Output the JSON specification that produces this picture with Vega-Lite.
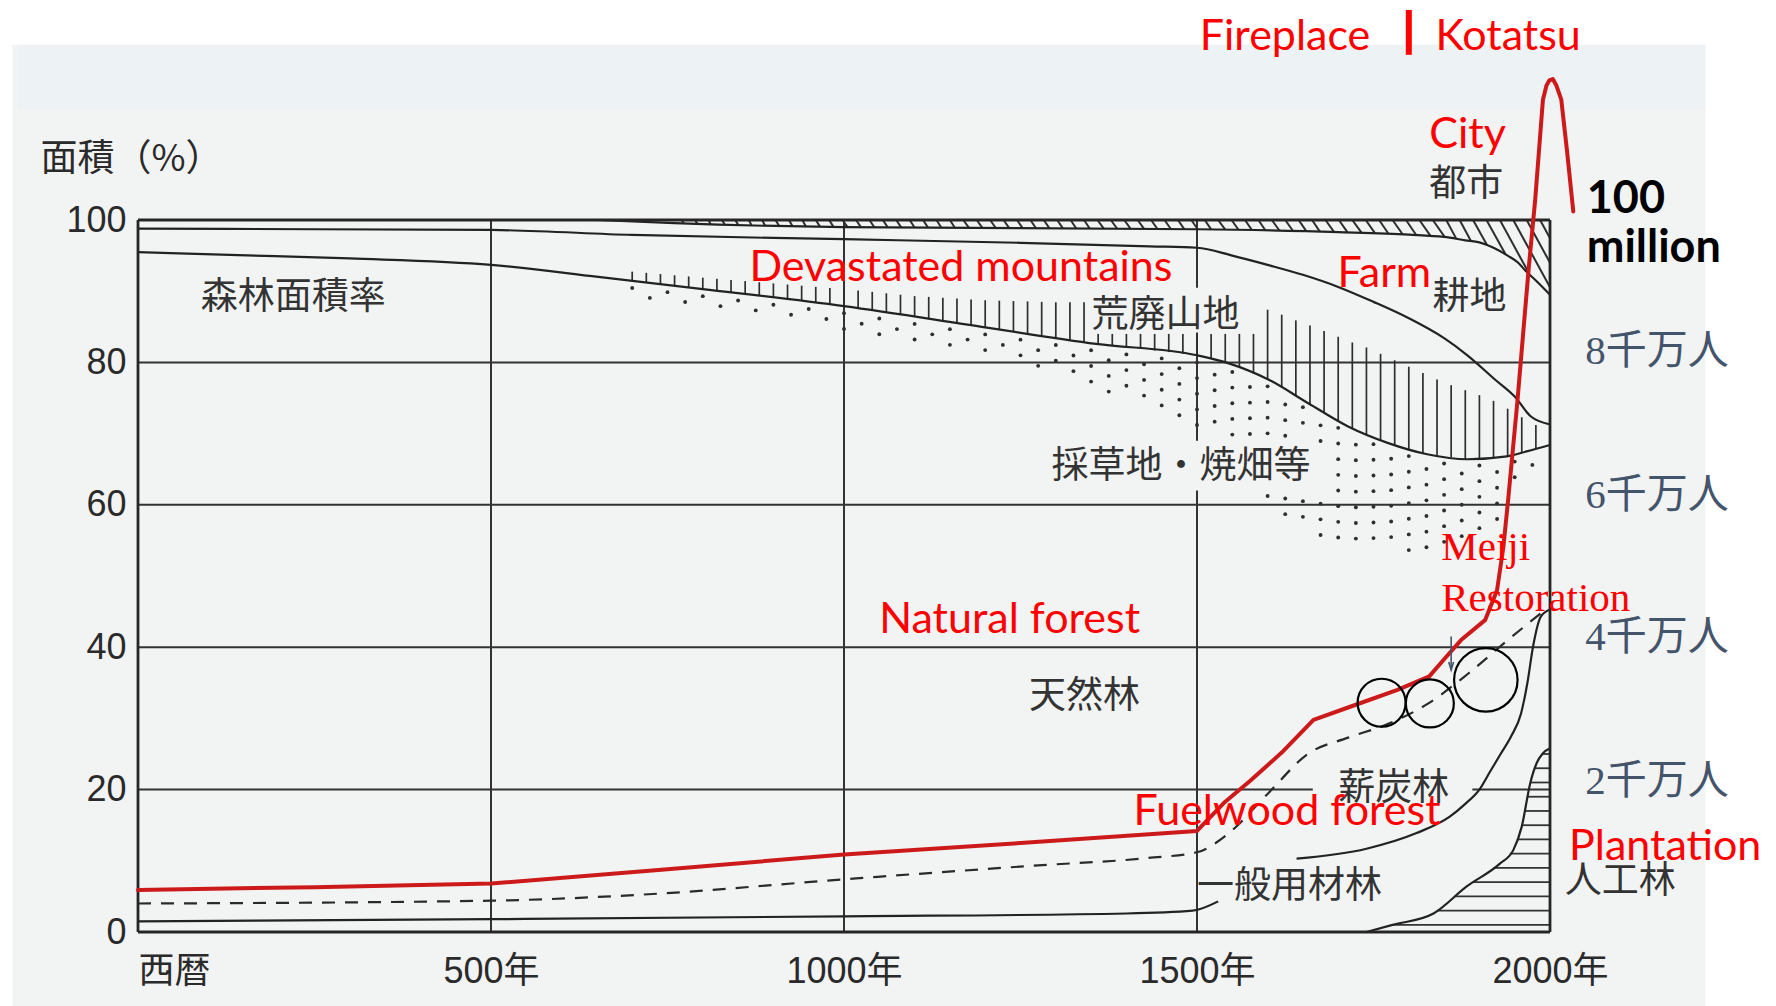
{
  "$schema": "https://vega.github.io/schema/vega-lite/v6.json",
  "width": 1412,
  "height": 712,
  "autosize": {"type": "none"},
  "padding": {"left": 138, "top": 220, "right": 226, "bottom": 74},
  "background": "#ffffff",
  "config": {"view": {"stroke": null}},
  "encoding": {
    "x": {"field": "t", "type": "quantitative",
      "scale": {"domain": [0, 2000], "nice": false, "zero": false},
      "axis": {"values": [0, 500, 1000, 1500, 2000], "zindex": 2,
        "labelExpr": "datum.value == 0 ? '西暦' : datum.value + '年'",
        "labelFont": "Liberation Sans, Noto Sans CJK JP", "labelFontSize": 36, "labelColor": "#2a2a2a",
        "labelPadding": 22, "labelAlign": {"condition": {"test": "datum.value == 0", "value": "left"}, "value": "center"},
        "ticks": false, "domain": false, "grid": false, "title": null,
        "labelOverlap": false, "labelBound": false, "labelFlush": false}},
    "y": {"field": "v", "type": "quantitative",
      "scale": {"domain": [0, 100], "nice": false, "zero": false},
      "axis": {"values": [0, 20, 40, 60, 80, 100], "zindex": 2,
        "labelFont": "Liberation Sans", "labelFontSize": 36, "labelColor": "#2a2a2a", "labelPadding": 12,
        "ticks": false, "domain": false, "grid": false,
        "title": "面積（%）", "titleAngle": 0, "titleX": -98, "titleY": -61, "titleAlign": "left", "titleBaseline": "middle",
        "titleFont": "Noto Sans CJK JP", "titleFontSize": 37, "titleFontWeight": "normal", "titleColor": "#2a2a2a",
        "labelOverlap": false, "labelBound": false, "labelFlush": false}}
  },
  "datasets": {
    "bg": [
      {"k": "gray", "t": -178, "t2": 2220, "v": 124.6, "v2": -10.4},
      {"k": "blue", "t": -170, "t2": 2220, "v": 124.6, "v2": 115.5}
    ],
    "grid": [
      {"t": 0, "t2": 2000, "v": 80, "v2": 80},
      {"t": 0, "t2": 2000, "v": 60, "v2": 60},
      {"t": 0, "t2": 2000, "v": 40, "v2": 40},
      {"t": 0, "t2": 1664, "v": 20, "v2": 20},
      {"t": 1890, "t2": 2000, "v": 20, "v2": 20},
      {"t": 500, "t2": 500, "v": 0, "v2": 100},
      {"t": 1000, "t2": 1000, "v": 0, "v2": 100},
      {"t": 1500, "t2": 1500, "v": 90.5, "v2": 100},
      {"t": 1500, "t2": 1500, "v": 69, "v2": 84.2},
      {"t": 1500, "t2": 1500, "v": 0, "v2": 62}
    ],
    "frame": [
      {"t": 0, "t2": 2000, "v": 100, "v2": 100},
      {"t": 0, "t2": 2000, "v": 0, "v2": 0},
      {"t": 0, "t2": 0, "v": 0, "v2": 100},
      {"t": 2000, "t2": 2000, "v": 0, "v2": 100}
    ],
    "cityh": [
      {"t": 770, "t2": 773, "v": 100, "v2": 99.55}, {"t": 789, "t2": 792, "v": 100, "v2": 99.5},
      {"t": 808, "t2": 811, "v": 100, "v2": 99.45}, {"t": 827, "t2": 831, "v": 100, "v2": 99.4},
      {"t": 846, "t2": 850, "v": 100, "v2": 99.35}, {"t": 865, "t2": 869, "v": 100, "v2": 99.3},
      {"t": 884, "t2": 888, "v": 100, "v2": 99.25}, {"t": 903, "t2": 908, "v": 100, "v2": 99.2},
      {"t": 922, "t2": 927, "v": 100, "v2": 99.15}, {"t": 941, "t2": 946, "v": 100, "v2": 99.1},
      {"t": 960, "t2": 966, "v": 100, "v2": 99.07}, {"t": 979, "t2": 985, "v": 100, "v2": 99.04},
      {"t": 998, "t2": 1005, "v": 100, "v2": 99.0}, {"t": 1017, "t2": 1024, "v": 100, "v2": 98.99},
      {"t": 1036, "t2": 1043, "v": 100, "v2": 98.98}, {"t": 1055, "t2": 1062, "v": 100, "v2": 98.97},
      {"t": 1074, "t2": 1081, "v": 100, "v2": 98.96}, {"t": 1093, "t2": 1100, "v": 100, "v2": 98.94},
      {"t": 1112, "t2": 1119, "v": 100, "v2": 98.93}, {"t": 1131, "t2": 1138, "v": 100, "v2": 98.92},
      {"t": 1150, "t2": 1157, "v": 100, "v2": 98.91}, {"t": 1169, "t2": 1177, "v": 100, "v2": 98.9},
      {"t": 1188, "t2": 1196, "v": 100, "v2": 98.89}, {"t": 1207, "t2": 1215, "v": 100, "v2": 98.88},
      {"t": 1226, "t2": 1234, "v": 100, "v2": 98.86}, {"t": 1245, "t2": 1253, "v": 100, "v2": 98.85},
      {"t": 1264, "t2": 1272, "v": 100, "v2": 98.84}, {"t": 1283, "t2": 1291, "v": 100, "v2": 98.83},
      {"t": 1302, "t2": 1310, "v": 100, "v2": 98.82}, {"t": 1321, "t2": 1329, "v": 100, "v2": 98.81},
      {"t": 1340, "t2": 1348, "v": 100, "v2": 98.8}, {"t": 1359, "t2": 1368, "v": 100, "v2": 98.78},
      {"t": 1378, "t2": 1387, "v": 100, "v2": 98.77}, {"t": 1397, "t2": 1406, "v": 100, "v2": 98.76},
      {"t": 1416, "t2": 1425, "v": 100, "v2": 98.75}, {"t": 1435, "t2": 1444, "v": 100, "v2": 98.74},
      {"t": 1454, "t2": 1463, "v": 100, "v2": 98.73}, {"t": 1473, "t2": 1482, "v": 100, "v2": 98.72},
      {"t": 1492, "t2": 1501, "v": 100, "v2": 98.7}, {"t": 1511, "t2": 1520, "v": 100, "v2": 98.68},
      {"t": 1530, "t2": 1540, "v": 100, "v2": 98.64}, {"t": 1549, "t2": 1559, "v": 100, "v2": 98.6},
      {"t": 1568, "t2": 1578, "v": 100, "v2": 98.56}, {"t": 1587, "t2": 1597, "v": 100, "v2": 98.53},
      {"t": 1606, "t2": 1617, "v": 100, "v2": 98.49}, {"t": 1625, "t2": 1636, "v": 100, "v2": 98.45},
      {"t": 1644, "t2": 1655, "v": 100, "v2": 98.41}, {"t": 1663, "t2": 1674, "v": 100, "v2": 98.37},
      {"t": 1682, "t2": 1694, "v": 100, "v2": 98.34}, {"t": 1701, "t2": 1713, "v": 100, "v2": 98.3},
      {"t": 1720, "t2": 1733, "v": 100, "v2": 98.23}, {"t": 1739, "t2": 1752, "v": 100, "v2": 98.16},
      {"t": 1758, "t2": 1771, "v": 100, "v2": 98.1}, {"t": 1777, "t2": 1791, "v": 100, "v2": 98.03},
      {"t": 1796, "t2": 1810, "v": 100, "v2": 97.96}, {"t": 1815, "t2": 1831, "v": 100, "v2": 97.74},
      {"t": 1834, "t2": 1851, "v": 100, "v2": 97.6}, {"t": 1853, "t2": 1867, "v": 100, "v2": 97.42},
      {"t": 1872, "t2": 1888, "v": 100, "v2": 97.05}, {"t": 1891, "t2": 1911, "v": 100, "v2": 96.45},
      {"t": 1910, "t2": 1937, "v": 100, "v2": 95.19}, {"t": 1929, "t2": 1971, "v": 100, "v2": 92.37},
      {"t": 1948, "t2": 2000, "v": 100, "v2": 90.55}, {"t": 1967, "t2": 2000, "v": 100, "v2": 94.0},
      {"t": 1986, "t2": 2000, "v": 100, "v2": 97.45}
    ],
    "ticks": [
      {"t": 700, "v": 91.45, "v2": 92.75}, {"t": 720, "v": 91.22, "v2": 92.58}, {"t": 740, "v": 90.99, "v2": 92.41},
      {"t": 760, "v": 90.76, "v2": 92.24}, {"t": 780, "v": 90.53, "v2": 92.07}, {"t": 800, "v": 90.3, "v2": 91.9},
      {"t": 820, "v": 90.06, "v2": 91.74}, {"t": 840, "v": 89.82, "v2": 91.58}, {"t": 860, "v": 89.58, "v2": 91.42},
      {"t": 880, "v": 89.34, "v2": 91.26}, {"t": 900, "v": 89.1, "v2": 91.1}, {"t": 920, "v": 88.86, "v2": 90.94},
      {"t": 940, "v": 88.62, "v2": 90.78}, {"t": 960, "v": 88.38, "v2": 90.62}, {"t": 980, "v": 88.14, "v2": 90.46},
      {"t": 1000, "v": 87.9, "v2": 90.3}, {"t": 1020, "v": 87.6, "v2": 90.1}, {"t": 1040, "v": 87.31, "v2": 89.91},
      {"t": 1060, "v": 87.01, "v2": 89.71}, {"t": 1080, "v": 86.71, "v2": 89.51}, {"t": 1100, "v": 86.41, "v2": 89.31},
      {"t": 1120, "v": 86.12, "v2": 89.2}, {"t": 1140, "v": 85.82, "v2": 89.08}, {"t": 1160, "v": 85.52, "v2": 88.96},
      {"t": 1180, "v": 85.22, "v2": 88.84}, {"t": 1200, "v": 84.93, "v2": 88.73}, {"t": 1220, "v": 84.63, "v2": 88.67},
      {"t": 1240, "v": 84.34, "v2": 88.62}, {"t": 1260, "v": 84.04, "v2": 88.56}, {"t": 1280, "v": 83.74, "v2": 88.5},
      {"t": 1300, "v": 83.44, "v2": 88.44}, {"t": 1320, "v": 83.15, "v2": 88.45}, {"t": 1340, "v": 82.85, "v2": 88.45},
      {"t": 1360, "v": 82.56, "v2": 84.0}, {"t": 1380, "v": 82.34, "v2": 84.0}, {"t": 1400, "v": 82.12, "v2": 84.0},
      {"t": 1420, "v": 81.9, "v2": 84.0}, {"t": 1440, "v": 81.67, "v2": 84.0}, {"t": 1460, "v": 81.45, "v2": 84.0},
      {"t": 1480, "v": 81.22, "v2": 84.0}, {"t": 1500, "v": 81.0, "v2": 84.0}, {"t": 1520, "v": 80.5, "v2": 84.0},
      {"t": 1540, "v": 80.0, "v2": 84.0}, {"t": 1560, "v": 79.25, "v2": 84.0}, {"t": 1580, "v": 78.45, "v2": 84.0},
      {"t": 1600, "v": 77.64, "v2": 87.4}, {"t": 1620, "v": 76.49, "v2": 86.7}, {"t": 1640, "v": 75.3, "v2": 85.9},
      {"t": 1660, "v": 74.1, "v2": 85.2}, {"t": 1680, "v": 72.97, "v2": 84.4}, {"t": 1700, "v": 71.81, "v2": 83.6},
      {"t": 1720, "v": 70.75, "v2": 82.8}, {"t": 1740, "v": 69.93, "v2": 82.1}, {"t": 1760, "v": 69.11, "v2": 81.2},
      {"t": 1780, "v": 68.41, "v2": 80.3}, {"t": 1800, "v": 67.84, "v2": 79.4}, {"t": 1820, "v": 67.27, "v2": 78.5},
      {"t": 1840, "v": 66.93, "v2": 77.6}, {"t": 1860, "v": 66.68, "v2": 76.8}, {"t": 1880, "v": 66.44, "v2": 76.1},
      {"t": 1900, "v": 66.52, "v2": 75.4}, {"t": 1920, "v": 66.67, "v2": 74.6}, {"t": 1940, "v": 66.82, "v2": 73.5},
      {"t": 1960, "v": 67.32, "v2": 72.3}, {"t": 1980, "v": 67.9, "v2": 71.2}
    ],
    "phatch": [
      {"v": 1, "t": 1777, "t2": 2000}, {"v": 3, "t": 1840, "t2": 2000}, {"v": 5, "t": 1865, "t2": 2000},
      {"v": 7, "t": 1891, "t2": 2000}, {"v": 9, "t": 1920, "t2": 2000}, {"v": 11, "t": 1943, "t2": 2000},
      {"v": 13, "t": 1953, "t2": 2000}, {"v": 15, "t": 1960.4, "t2": 2000}, {"v": 17, "t": 1964.3, "t2": 2000},
      {"v": 19, "t": 1968.3, "t2": 2000}, {"v": 21, "t": 1972.3, "t2": 2000}, {"v": 23, "t": 1978.8, "t2": 2000},
      {"v": 25, "t": 1989.4, "t2": 2000}
    ],
    "dots": [
      {"t": 700, "v": 90.45}, {"t": 725, "v": 89.06}, {"t": 750, "v": 89.87}, {"t": 775, "v": 88.49},
      {"t": 800, "v": 89.3}, {"t": 825, "v": 87.9}, {"t": 850, "v": 88.7}, {"t": 875, "v": 87.3},
      {"t": 900, "v": 88.1}, {"t": 925, "v": 86.7}, {"t": 950, "v": 87.5}, {"t": 975, "v": 86.1},
      {"t": 1000, "v": 86.9}, {"t": 1000, "v": 84.7}, {"t": 1025, "v": 85.43},
      {"t": 1050, "v": 86.16}, {"t": 1050, "v": 83.96}, {"t": 1075, "v": 84.68},
      {"t": 1100, "v": 85.41}, {"t": 1100, "v": 83.21}, {"t": 1125, "v": 83.94},
      {"t": 1150, "v": 84.67}, {"t": 1150, "v": 82.47}, {"t": 1175, "v": 83.2},
      {"t": 1200, "v": 83.93}, {"t": 1200, "v": 81.73}, {"t": 1225, "v": 82.46},
      {"t": 1250, "v": 83.19}, {"t": 1250, "v": 80.99}, {"t": 1275, "v": 81.72}, {"t": 1275, "v": 79.52},
      {"t": 1300, "v": 82.44}, {"t": 1300, "v": 80.24}, {"t": 1325, "v": 80.97}, {"t": 1325, "v": 78.77},
      {"t": 1350, "v": 81.7}, {"t": 1350, "v": 79.5}, {"t": 1350, "v": 77.3},
      {"t": 1375, "v": 80.3}, {"t": 1375, "v": 78.1}, {"t": 1375, "v": 75.9},
      {"t": 1400, "v": 81.12}, {"t": 1400, "v": 78.92}, {"t": 1400, "v": 76.72},
      {"t": 1425, "v": 79.74}, {"t": 1425, "v": 77.54}, {"t": 1425, "v": 75.34},
      {"t": 1450, "v": 80.56}, {"t": 1450, "v": 78.36}, {"t": 1450, "v": 76.16}, {"t": 1450, "v": 73.96},
      {"t": 1475, "v": 79.18}, {"t": 1475, "v": 76.98}, {"t": 1475, "v": 74.78}, {"t": 1475, "v": 72.58},
      {"t": 1500, "v": 80.0}, {"t": 1500, "v": 77.8}, {"t": 1500, "v": 75.6}, {"t": 1500, "v": 73.4}, {"t": 1500, "v": 71.2},
      {"t": 1525, "v": 78.28}, {"t": 1525, "v": 76.08}, {"t": 1525, "v": 73.88}, {"t": 1525, "v": 71.68},
      {"t": 1550, "v": 78.66}, {"t": 1550, "v": 76.46}, {"t": 1550, "v": 74.26}, {"t": 1550, "v": 72.06}, {"t": 1550, "v": 69.86},
      {"t": 1575, "v": 76.55}, {"t": 1575, "v": 74.35}, {"t": 1575, "v": 72.15}, {"t": 1575, "v": 69.95},
      {"t": 1600, "v": 76.64}, {"t": 1600, "v": 74.44}, {"t": 1600, "v": 72.24}, {"t": 1600, "v": 70.04}, {"t": 1600, "v": 61.24},
      {"t": 1625, "v": 74.09}, {"t": 1625, "v": 71.89}, {"t": 1625, "v": 69.69}, {"t": 1625, "v": 60.89}, {"t": 1625, "v": 58.69},
      {"t": 1650, "v": 73.71}, {"t": 1650, "v": 71.51}, {"t": 1650, "v": 60.51}, {"t": 1650, "v": 58.31},
      {"t": 1675, "v": 71.16}, {"t": 1675, "v": 68.96}, {"t": 1675, "v": 60.16}, {"t": 1675, "v": 57.96}, {"t": 1675, "v": 55.76},
      {"t": 1700, "v": 70.81}, {"t": 1700, "v": 68.61}, {"t": 1700, "v": 66.41}, {"t": 1700, "v": 64.21}, {"t": 1700, "v": 62.01}, {"t": 1700, "v": 59.81}, {"t": 1700, "v": 57.61}, {"t": 1700, "v": 55.41},
      {"t": 1725, "v": 68.45}, {"t": 1725, "v": 66.25}, {"t": 1725, "v": 64.05}, {"t": 1725, "v": 61.85}, {"t": 1725, "v": 59.65}, {"t": 1725, "v": 57.45}, {"t": 1725, "v": 55.25},
      {"t": 1750, "v": 68.52}, {"t": 1750, "v": 66.32}, {"t": 1750, "v": 64.12}, {"t": 1750, "v": 61.92}, {"t": 1750, "v": 59.72}, {"t": 1750, "v": 57.52}, {"t": 1750, "v": 55.32},
      {"t": 1775, "v": 66.46}, {"t": 1775, "v": 64.26}, {"t": 1775, "v": 62.06}, {"t": 1775, "v": 59.86}, {"t": 1775, "v": 57.66}, {"t": 1775, "v": 55.46},
      {"t": 1800, "v": 66.84}, {"t": 1800, "v": 64.64}, {"t": 1800, "v": 62.44}, {"t": 1800, "v": 60.24}, {"t": 1800, "v": 58.04}, {"t": 1800, "v": 55.84}, {"t": 1800, "v": 53.64},
      {"t": 1825, "v": 65.03}, {"t": 1825, "v": 62.83}, {"t": 1825, "v": 60.63}, {"t": 1825, "v": 58.43}, {"t": 1825, "v": 56.23}, {"t": 1825, "v": 54.03},
      {"t": 1850, "v": 65.8}, {"t": 1850, "v": 63.6}, {"t": 1850, "v": 61.4}, {"t": 1850, "v": 59.2}, {"t": 1850, "v": 57.0}, {"t": 1850, "v": 54.8},
      {"t": 1875, "v": 64.4}, {"t": 1875, "v": 62.2}, {"t": 1875, "v": 60.0}, {"t": 1875, "v": 57.8}, {"t": 1875, "v": 55.6},
      {"t": 1900, "v": 65.52}, {"t": 1900, "v": 63.32}, {"t": 1900, "v": 61.12}, {"t": 1900, "v": 58.92}, {"t": 1900, "v": 56.72},
      {"t": 1925, "v": 64.6}, {"t": 1925, "v": 62.4}, {"t": 1925, "v": 60.2}, {"t": 1925, "v": 58.0},
      {"t": 1950, "v": 66.07}, {"t": 1950, "v": 63.87}, {"t": 1975, "v": 65.6}
    ],
    "curves": [
      {"s": "U", "t": 650, "v": 100}, {"s": "U", "t": 760, "v": 99.55}, {"s": "U", "t": 1000, "v": 99.0},
      {"s": "U", "t": 1500, "v": 98.7}, {"s": "U", "t": 1700, "v": 98.3}, {"s": "U", "t": 1800, "v": 97.95},
      {"s": "U", "t": 1850, "v": 97.62}, {"s": "U", "t": 1880, "v": 97.15}, {"s": "U", "t": 1900, "v": 96.85},
      {"s": "U", "t": 1920, "v": 96.1}, {"s": "U", "t": 1940, "v": 95.0}, {"s": "U", "t": 1955, "v": 94.0},
      {"s": "U", "t": 1965, "v": 92.9}, {"s": "U", "t": 1980, "v": 91.5}, {"s": "U", "t": 2000, "v": 89.5},
      {"s": "L2", "t": 0, "v": 98.8}, {"s": "L2", "t": 250, "v": 98.7}, {"s": "L2", "t": 500, "v": 98.6},
      {"s": "L2", "t": 700, "v": 97.9}, {"s": "L2", "t": 1000, "v": 97.3}, {"s": "L2", "t": 1250, "v": 96.8},
      {"s": "L2", "t": 1433, "v": 96.3}, {"s": "L2", "t": 1500, "v": 96.1}, {"s": "L2", "t": 1550, "v": 95.0},
      {"s": "L2", "t": 1600, "v": 93.7}, {"s": "L2", "t": 1650, "v": 92.3}, {"s": "L2", "t": 1700, "v": 90.6},
      {"s": "L2", "t": 1750, "v": 88.5}, {"s": "L2", "t": 1800, "v": 86.2}, {"s": "L2", "t": 1850, "v": 83.4},
      {"s": "L2", "t": 1883, "v": 81.0}, {"s": "L2", "t": 1922, "v": 77.6}, {"s": "L2", "t": 1950, "v": 75.2},
      {"s": "L2", "t": 1973, "v": 72.4}, {"s": "L2", "t": 2000, "v": 71.3},
      {"s": "L1", "t": 0, "v": 95.5}, {"s": "L1", "t": 130, "v": 95.1}, {"s": "L1", "t": 300, "v": 94.6},
      {"s": "L1", "t": 500, "v": 93.7}, {"s": "L1", "t": 652, "v": 92.0}, {"s": "L1", "t": 800, "v": 90.3},
      {"s": "L1", "t": 1000, "v": 87.9}, {"s": "L1", "t": 1195, "v": 85.0}, {"s": "L1", "t": 1357, "v": 82.6},
      {"s": "L1", "t": 1500, "v": 81.0}, {"s": "L1", "t": 1544, "v": 79.9}, {"s": "L1", "t": 1601, "v": 77.6},
      {"s": "L1", "t": 1657, "v": 74.3}, {"s": "L1", "t": 1714, "v": 71.0}, {"s": "L1", "t": 1770, "v": 68.7},
      {"s": "L1", "t": 1826, "v": 67.1}, {"s": "L1", "t": 1883, "v": 66.4}, {"s": "L1", "t": 1939, "v": 66.8},
      {"s": "L1", "t": 1967, "v": 67.5}, {"s": "L1", "t": 2000, "v": 68.4},
      {"s": "G1", "t": 0, "v": 1.5}, {"s": "G1", "t": 500, "v": 1.8}, {"s": "G1", "t": 1000, "v": 2.2},
      {"s": "G1", "t": 1400, "v": 2.6}, {"s": "G1", "t": 1494, "v": 3.0}, {"s": "G1", "t": 1530, "v": 4.3},
      {"s": "G2", "t": 1641, "v": 10.3}, {"s": "G2", "t": 1740, "v": 11.7}, {"s": "G2", "t": 1811, "v": 13.9},
      {"s": "G2", "t": 1858, "v": 16.2}, {"s": "G2", "t": 1880, "v": 18.0}, {"s": "G2", "t": 1900, "v": 20.0},
      {"s": "G2", "t": 1915, "v": 22.5}, {"s": "G2", "t": 1930, "v": 25.0}, {"s": "G2", "t": 1945, "v": 27.5},
      {"s": "G2", "t": 1959, "v": 30.7}, {"s": "G2", "t": 1968, "v": 35.0}, {"s": "G2", "t": 1976, "v": 40.1},
      {"s": "G2", "t": 1987, "v": 44.3}, {"s": "G2", "t": 2000, "v": 45.3},
      {"s": "P", "t": 1740, "v": 0}, {"s": "P", "t": 1777, "v": 1}, {"s": "P", "t": 1835, "v": 2.6},
      {"s": "P", "t": 1882, "v": 6.4}, {"s": "P", "t": 1929, "v": 9.6}, {"s": "P", "t": 1948, "v": 11.5},
      {"s": "P", "t": 1960, "v": 14.8}, {"s": "P", "t": 1972, "v": 20.9}, {"s": "P", "t": 1981, "v": 23.7},
      {"s": "P", "t": 1990, "v": 25.1}, {"s": "P", "t": 2000, "v": 25.8}
    ],
    "dash": [
      {"t": 0, "v": 4.0}, {"t": 500, "v": 4.4}, {"t": 723, "v": 5.3}, {"t": 1000, "v": 7.4}, {"t": 1266, "v": 9.3},
      {"t": 1431, "v": 10.4}, {"t": 1500, "v": 11.2}, {"t": 1544, "v": 13.8}, {"t": 1601, "v": 19.5},
      {"t": 1657, "v": 25.0}, {"t": 1714, "v": 27.3}, {"t": 1770, "v": 29.2}, {"t": 1826, "v": 32.0},
      {"t": 1883, "v": 36.2}, {"t": 1939, "v": 40.9}, {"t": 1990, "v": 45.0}
    ],
    "red": [
      {"t": 0, "v": 5.9}, {"t": 250, "v": 6.3}, {"t": 500, "v": 6.8}, {"t": 750, "v": 8.8}, {"t": 1000, "v": 10.9},
      {"t": 1250, "v": 12.5}, {"t": 1500, "v": 14.2}, {"t": 1540, "v": 18.3}, {"t": 1575, "v": 21.2},
      {"t": 1620, "v": 25.2}, {"t": 1665, "v": 29.8}, {"t": 1716, "v": 31.6}, {"t": 1784, "v": 34.0},
      {"t": 1829, "v": 35.9}, {"t": 1850, "v": 38.3}, {"t": 1874, "v": 41.0}, {"t": 1908, "v": 43.8},
      {"t": 1925, "v": 48.0}, {"t": 1934, "v": 54.1}, {"t": 1941, "v": 61.0}, {"t": 1954, "v": 74.7},
      {"t": 1962, "v": 84.1}, {"t": 1970, "v": 93.4}, {"t": 1979, "v": 102.8}, {"t": 1990, "v": 116.9},
      {"t": 1995, "v": 118.9}, {"t": 1999, "v": 119.6}, {"t": 2004, "v": 119.8}, {"t": 2009, "v": 118.9},
      {"t": 2016, "v": 116.9}, {"t": 2024, "v": 109.8}, {"t": 2033, "v": 101.2}
    ],
    "labels": [
      {"g": "cjk", "txt": "森林面積率", "t": 89, "v": 89.0},
      {"g": "cjk", "txt": "荒廃山地", "t": 1350.6, "v": 86.5},
      {"g": "cjk", "txt": "採草地・焼畑等", "t": 1294, "v": 65.3},
      {"g": "cjk", "txt": "天然林", "t": 1262, "v": 33.0},
      {"g": "cjk", "txt": "薪炭林", "t": 1700, "v": 20.1},
      {"g": "cjk", "txt": "一般用材林", "t": 1500, "v": 6.3},
      {"g": "cjk", "txt": "耕地", "t": 1833.6, "v": 89.0},
      {"g": "cjk", "txt": "都市", "t": 1829, "v": 104.9},
      {"g": "cjk", "txt": "人工林", "t": 2021, "v": 7.0},
      {"g": "red", "txt": "Fireplace", "t": 1504, "v": 125.7},
      {"g": "red", "txt": "Kotatsu", "t": 1837.7, "v": 125.7},
      {"g": "red", "txt": "City", "t": 1829, "v": 112.0},
      {"g": "red", "txt": "Farm", "t": 1699, "v": 92.4},
      {"g": "red", "txt": "Devastated mountains", "t": 866, "v": 93.3},
      {"g": "red", "txt": "Natural forest", "t": 1050, "v": 43.8},
      {"g": "red", "txt": "Fuelwood forest", "t": 1410, "v": 16.9},
      {"g": "red", "txt": "Plantation", "t": 2027, "v": 11.9},
      {"g": "serif", "txt": "Meiji", "t": 1846, "v": 53.9},
      {"g": "serif", "txt": "Restoration", "t": 1846, "v": 46.7},
      {"g": "right", "txt": "8千万人", "t": 2050, "v": 81.5},
      {"g": "right", "txt": "6千万人", "t": 2050, "v": 61.3},
      {"g": "right", "txt": "4千万人", "t": 2050, "v": 41.3},
      {"g": "right", "txt": "2千万人", "t": 2050, "v": 21.0},
      {"g": "black", "txt": "100", "t": 2052, "v": 102.9},
      {"g": "black", "txt": "million", "t": 2052, "v": 96.1}
    ],
    "circ": [
      {"k": "s", "t": 1761.5, "v": 32.2},
      {"k": "s", "t": 1829.8, "v": 32.1},
      {"k": "l", "t": 1909.1, "v": 35.4}
    ],
    "arrow": [{"t": 1860, "v": 36.8, "v2": 41.5}],
    "bar": [{"t": 1800, "v": 123.2, "v2": 129.5}]
  },
  "layer": [
    {"data": {"name": "bg"}, "transform": [{"filter": "datum.k == 'gray'"}],
     "mark": {"type": "rect", "color": "#f2f3f3"},
     "encoding": {"x2": {"field": "t2"}, "y2": {"field": "v2"}}},
    {"data": {"name": "bg"}, "transform": [{"filter": "datum.k == 'blue'"}],
     "mark": {"type": "rect", "color": "#edf2f5"},
     "encoding": {"x2": {"field": "t2"}, "y2": {"field": "v2"}}},
    {"data": {"name": "grid"}, "mark": {"type": "rule", "color": "#333333", "strokeWidth": 2},
     "encoding": {"x2": {"field": "t2"}, "y2": {"field": "v2"}}},
    {"data": {"name": "cityh"}, "mark": {"type": "rule", "color": "#2e2e2e", "strokeWidth": 2},
     "encoding": {"x2": {"field": "t2"}, "y2": {"field": "v2"}}},
    {"data": {"name": "ticks"}, "mark": {"type": "rule", "color": "#2e2e2e", "strokeWidth": 1.7},
     "encoding": {"y2": {"field": "v2"}}},
    {"data": {"name": "phatch"}, "mark": {"type": "rule", "color": "#333333", "strokeWidth": 1.8},
     "encoding": {"x2": {"field": "t2"}}},
    {"data": {"name": "dots"}, "mark": {"type": "point", "filled": true, "shape": "circle", "size": 15, "color": "#2e2e2e", "opacity": 1},
     "encoding": {}},
    {"data": {"name": "curves"}, "mark": {"type": "line", "color": "#222222", "strokeWidth": 2.2, "interpolate": "monotone"},
     "encoding": {"detail": {"field": "s"}}},
    {"data": {"name": "dash"}, "mark": {"type": "line", "color": "#2a2a2a", "strokeWidth": 2.2, "strokeDash": [13, 10], "interpolate": "monotone"},
     "encoding": {}},
    {"data": {"name": "frame"}, "mark": {"type": "rule", "color": "#262626", "strokeWidth": 2.8},
     "encoding": {"x2": {"field": "t2"}, "y2": {"field": "v2"}}},
    {"data": {"name": "labels"}, "transform": [{"filter": "datum.g == 'cjk'"}],
     "mark": {"type": "text", "align": "left", "baseline": "middle", "font": "Noto Sans CJK JP", "fontSize": 37, "color": "#333333"},
     "encoding": {"text": {"field": "txt"}}},
    {"data": {"name": "red"}, "mark": {"type": "line", "color": "#cc1a1a", "strokeWidth": 4, "strokeCap": "round", "strokeJoin": "round"},
     "encoding": {}},
    {"data": {"name": "labels"}, "transform": [{"filter": "datum.g == 'red'"}],
     "mark": {"type": "text", "align": "left", "baseline": "middle", "font": "Lato", "fontSize": 43, "color": "#ff0000"},
     "encoding": {"text": {"field": "txt"}}},
    {"data": {"name": "labels"}, "transform": [{"filter": "datum.g == 'serif'"}],
     "mark": {"type": "text", "align": "left", "baseline": "middle", "font": "Liberation Serif", "fontSize": 41, "color": "#ff0000"},
     "encoding": {"text": {"field": "txt"}}},
    {"data": {"name": "labels"}, "transform": [{"filter": "datum.g == 'right'"}],
     "mark": {"type": "text", "align": "left", "baseline": "middle", "font": "Liberation Serif, Noto Sans CJK JP", "fontSize": 41, "color": "#44546a"},
     "encoding": {"text": {"field": "txt"}}},
    {"data": {"name": "labels"}, "transform": [{"filter": "datum.g == 'black'"}],
     "mark": {"type": "text", "align": "left", "baseline": "middle", "font": "Lato", "fontSize": 45, "fontWeight": "bold", "color": "#000000"},
     "encoding": {"text": {"field": "txt"}}},
    {"data": {"name": "circ"}, "transform": [{"filter": "datum.k == 's'"}],
     "mark": {"type": "point", "shape": "circle", "filled": false, "size": 2304, "stroke": "#000000", "strokeWidth": 2.2, "opacity": 1},
     "encoding": {}},
    {"data": {"name": "circ"}, "transform": [{"filter": "datum.k == 'l'"}],
     "mark": {"type": "point", "shape": "circle", "filled": false, "size": 4032, "stroke": "#000000", "strokeWidth": 2.2, "opacity": 1},
     "encoding": {}},
    {"data": {"name": "arrow"}, "mark": {"type": "rule", "color": "#44546a", "strokeWidth": 1.6},
     "encoding": {"y2": {"field": "v2"}}},
    {"data": {"name": "arrow"}, "mark": {"type": "point", "shape": "M-0.6,-2L0,0L0.6,-2", "filled": false, "size": 64, "stroke": "#44546a", "strokeWidth": 1.6, "opacity": 1},
     "encoding": {}},
    {"data": {"name": "bar"}, "mark": {"type": "rule", "color": "#ff0000", "strokeWidth": 6},
     "encoding": {"y2": {"field": "v2"}}}
  ]
}
